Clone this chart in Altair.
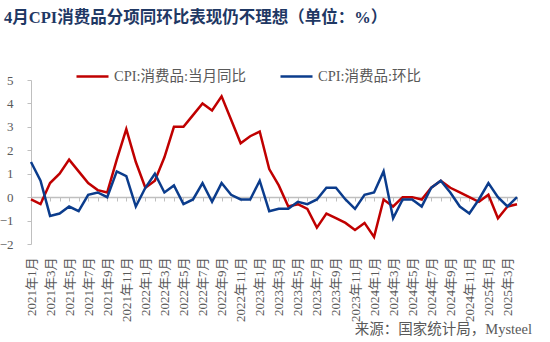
import altair as alt
import pandas as pd

months = [f"{y}年{m}月" for y in range(2021, 2026) for m in range(1, 13)][:52]

series_names = ["CPI:消费品:当月同比", "CPI:消费品:环比"]

yoy = [-0.1, -0.3, 0.6, 1.0, 1.6, 1.1, 0.6, 0.3, 0.2, 1.6, 2.9, 1.5,
       0.4, 0.7, 1.7, 3.0, 3.0, 3.5, 4.0, 3.7, 4.3, 3.3, 2.3, 2.6,
       2.8, 1.2, 0.5, -0.4, -0.3, -0.5, -1.3, -0.7, -0.9, -1.1, -1.4, -1.1,
       -1.7, -0.1, -0.4, 0.0, 0.0, -0.1, 0.4, 0.7, 0.4, 0.2, 0.0, -0.2,
       0.1, -0.9, -0.4, -0.3]

mom = [1.5, 0.7, -0.8, -0.7, -0.4, -0.6, 0.1, 0.2, 0.0, 1.1, 0.9, -0.4,
       0.4, 1.0, 0.2, 0.5, -0.3, -0.1, 0.6, -0.2, 0.6, 0.1, -0.1, -0.1,
       0.7, -0.6, -0.5, -0.5, -0.2, -0.3, -0.1, 0.4, 0.4, -0.1, -0.5, 0.1,
       0.2, 1.1, -0.9, -0.1, -0.1, -0.4, 0.4, 0.7, 0.2, -0.4, -0.7, -0.1,
       0.6, 0.0, -0.4, 0.0]

y_ticks = [-2, -1, 0, 1, 2, 3, 4, 5]
colors = ["#C00000", "#0B3C8C"]
title_text = "4月CPI消费品分项同环比表现仍不理想（单位：%）"
source_text = "来源：国家统计局，Mysteel"

rows = []
for name, vals in zip(series_names, [yoy, mom]):
    for i, (m, v) in enumerate(zip(months, vals)):
        rows.append({"month": m, "idx": i, "series": name, "value": v})
df = pd.DataFrame(rows)

FONT = "Liberation Serif, Noto Sans CJK SC"
GRAY = "#595959"
AXIS_GRAY = "#BFBFBF"

lines = alt.Chart(df).mark_line(strokeWidth=2.5).encode(
    x=alt.X("month:O", sort=months,
            scale=alt.Scale(type="point", padding=0),
            axis=alt.Axis(title=None, offset=-47, labelAngle=-90, labelPadding=56,
                          tickSize=4, domainColor=AXIS_GRAY, tickColor=AXIS_GRAY,
                          domainWidth=1.5, grid=False, labelOverlap=False,
                          labelExpr="test(regexp('年(2|4|6|8|10|12)月'), datum.label) ? '' : datum.label",
                          labelFont=FONT, labelFontSize=13, labelColor=GRAY)),
    y=alt.Y("value:Q", scale=alt.Scale(domain=[-2, 5], nice=False),
            axis=alt.Axis(title=None, values=y_ticks, grid=False, tickSize=4,
                          domainColor=AXIS_GRAY, tickColor=AXIS_GRAY, labelPadding=14,
                          labelFont=FONT, labelFontSize=13, labelColor=GRAY)),
    color=alt.Color("series:N", scale=alt.Scale(domain=series_names, range=colors),
                    legend=alt.Legend(orient="none", legendX=44, legendY=-21,
                                      direction="horizontal", title=None,
                                      symbolType="stroke", symbolSize=1024,
                                      symbolStrokeWidth=2.5, labelFont=FONT,
                                      labelFontSize=14.5, labelColor=GRAY,
                                      labelOffset=4, columnPadding=28, padding=0)),
    order=alt.Order("idx:Q"),
)

source = alt.Chart(pd.DataFrame({"t": [source_text]})).mark_text(
    align="right", baseline="alphabetic", font=FONT, fontSize=14.5, color=GRAY
).encode(text="t:N", x=alt.value(501), y=alt.value(254))

chart = alt.layer(lines, source).properties(
    width=486, height=164,
    padding={"left": 31, "top": 80, "right": 33, "bottom": 98},
    autosize=alt.AutoSizeParams(type="none"),
    title=alt.TitleParams(title_text, anchor="start", frame="group", dx=-27, offset=33,
                          font=FONT, fontSize=16.5, fontWeight="bold", color="#1F3864"),
).configure_view(stroke=None)

chart.save("out.html", embed_options={"renderer": "svg", "actions": False})
